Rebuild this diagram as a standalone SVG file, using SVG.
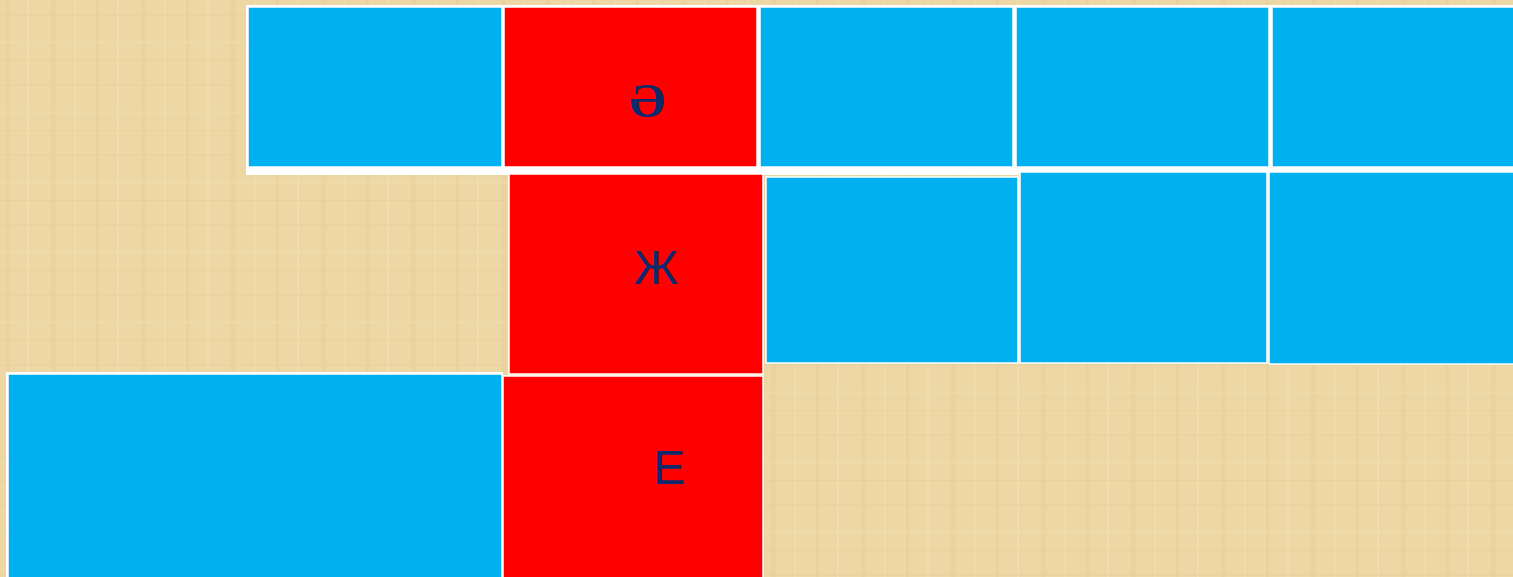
<svg xmlns="http://www.w3.org/2000/svg" width="1513" height="577" viewBox="0 0 1513 577">
<defs>
<pattern id="papyrus" x="0" y="0" width="90" height="70" patternUnits="userSpaceOnUse">
<rect width="90" height="70" fill="#EDD7A5"/>
<rect x="6" y="0" width="3" height="70" fill="#E2C88F" opacity="0.3"/>
<rect x="27" y="0" width="2" height="70" fill="#F6E4BA" opacity="0.4"/>
<rect x="51" y="0" width="5" height="70" fill="#E0C68C" opacity="0.25"/>
<rect x="74" y="0" width="2" height="70" fill="#F5E2B6" opacity="0.35"/>
<rect x="0" y="14" width="90" height="2" fill="#E3CA92" opacity="0.25"/>
<rect x="0" y="41" width="90" height="3" fill="#F4E1B4" opacity="0.3"/>
<rect x="0" y="60" width="90" height="1" fill="#DDC289" opacity="0.25"/>
</pattern>
<style>
.blue{fill:#00B0F0;stroke:#FFFFFF;stroke-width:1.5}
.red{fill:#FF0000;stroke:#FFFFFF;stroke-width:1.5}
.lbl{fill:#0E2A6A;font-size:48px;text-anchor:middle}
.serif{font-family:"Liberation Serif","DejaVu Serif",serif;font-weight:bold}
.sans{font-family:"Liberation Sans","DejaVu Sans",sans-serif}
</style>
</defs>
<rect x="0" y="0" width="1513" height="577" fill="url(#papyrus)"/>
<rect x="246" y="5" width="1267" height="170" fill="#FFFFFF"/>
<rect x="6" y="372" width="497" height="205" fill="#FFFFFF"/>

<g id="r1c1"><rect class="blue" x="248" y="7" width="254" height="160"/></g>
<g id="r1c2"><rect class="red" x="504" y="7" width="253" height="160"/><text class="lbl serif" x="647" y="117">Ә</text></g>
<g id="r1c3"><rect class="blue" x="760" y="7" width="253" height="160"/></g>
<g id="r1c4"><rect class="blue" x="1016" y="7" width="253" height="160"/></g>
<g id="r1c5"><rect class="blue" x="1272" y="7" width="245" height="160"/></g>

<g id="r2c1"><rect class="red" x="509" y="174" width="254" height="200"/><text class="lbl sans" x="656" y="284">Ж</text></g>
<g id="r2c2"><rect class="blue" x="766" y="177" width="252" height="186"/></g>
<g id="r2c3"><rect class="blue" x="1020" y="172" width="247" height="191"/></g>
<g id="r2c4"><rect class="blue" x="1269" y="172" width="248" height="192"/></g>

<g id="r3c1"><rect class="blue" x="8" y="374" width="494" height="207"/></g>
<g id="r3c2"><rect class="red" x="503" y="376" width="260" height="205"/><text class="lbl sans" x="669" y="484">Е</text></g>
</svg>
